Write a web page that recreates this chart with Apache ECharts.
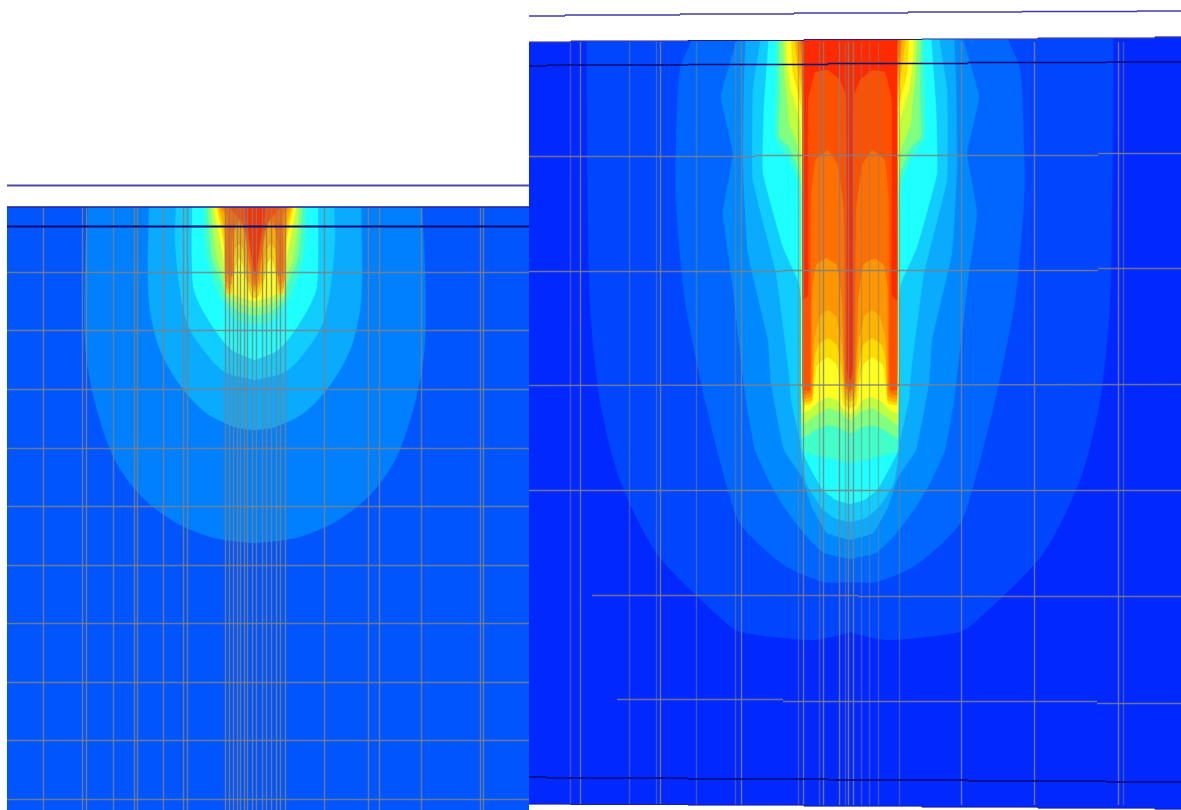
<!DOCTYPE html>
<html><head><meta charset="utf-8">
<style>html,body{margin:0;background:#fff}#c{width:1181px;height:810px}</style>
<script src="https://cdn.jsdelivr.net/npm/echarts@6/dist/echarts.min.js"></script>
</head><body><div id="c"></div>
<script>
// half-outlines of each contour level: [offset from the symmetry axis, depth]
const leftCentre = 255, rightCentre = 850;
const leftColors = ['#0080ff','#0aaaff','#10ccff','#1effff','#40ffc8','#80ff80','#b8ff50','#ffff20','#ffd000','#ffa800','#ff8800','#ff6a00','#ff4c00','#ff3000'];
const leftContours = [
 [[167,207],[170,272],[170,340],[165,380],[155,420],[140,460],[115,495],[80,522],[40,538],[0,543]],
 [[106,207],[107,270],[105,310],[95,350],[75,385],[50,412],[20,427],[0,430]],
 [[79,207],[80,240],[75,290],[67,325],[50,352],[30,372],[0,380]],
 [[63,207],[62,285],[55,305],[40,330],[23,350],[0,360]],
 [[51,207],[50,240],[47,262],[38,290],[30,305],[18,320],[0,325]],
 [[47,207],[45,240],[42,262],[32,285],[29,300],[15,312],[0,316]],
 [[44,207],[41,240],[37,262],[30,280],[29,295],[12,305],[0,308]],
 [[41,207],[38,225],[33,250],[30,270],[29,290],[12,298],[0,302]],
 [[38,207],[34,225],[31,245],[29,292],[24,294],[22,285],[20,270],[16,258],[12,265],[9,280],[4,295],[0,298]],
 [[36,207],[32,222],[30,240],[29,287],[25,289],[22,270],[20,250],[16,244],[11,252],[7,280],[0,292]],
 [[34,207],[30,215],[29,280],[24,284],[22,250],[20,230],[15,224],[10,235],[6,265],[4,280],[0,288]],
 [[31,207],[28,215],[28,272],[23,276],[23,240],[18,222],[13,222],[8,245],[5,265],[0,285]],
 [[25,207],[20,214],[14,220],[8,235],[4,255],[0,278]],
 [[10,207],[8,225],[5,240],[3,260],[0,272]]
];
const rightColors = ['#0046ff','#0066ff','#0088ff','#0aaaff','#10ccff','#1effff','#40ffc8','#80ff80','#c0ff40','#ffff20','#ffdc00','#ffb400','#ff9600','#ff7000','#ff5000','#ff2a00'];
const rightContours = [
 [[263,36],[263,100],[260,300],[250,400],[230,480],[192,555],[125,622],[109,632],[40,640],[15,636],[0,632]],
 [[157,36],[170,70],[174,150],[174,200],[165,300],[145,400],[122,490],[109,525],[66,565],[26,582],[0,582]],
 [[112,36],[129,97],[117,153],[127,213],[118,280],[112,333],[104,400],[95,450],[80,483],[66,507],[43,537],[26,553],[0,559]],
 [[104,36],[106,83],[107,167],[102,253],[82,340],[79,383],[66,450],[48,477],[38,507],[23,533],[0,540]],
 [[89,36],[97,90],[97,180],[74,273],[61,373],[59,400],[50,440],[48,460],[44,483],[29,507],[16,518],[0,522]],
 [[81,36],[86,107],[87,173],[67,247],[51,283],[48,307],[48,440],[47,453],[37,473],[27,490],[14,500],[0,504]],
 [[74,36],[74,60],[75,123],[74,140],[62,157],[51,183],[48,300],[48,447],[47,452],[22,458],[0,463]],
 [[71,36],[70,90],[71,137],[61,147],[50,173],[48,200],[48,438],[35,430],[22,425],[10,428],[0,434]],
 [[67,36],[65,80],[62,107],[61,123],[50,153],[48,200],[48,425],[38,418],[22,408],[10,412],[0,421]],
 [[64,36],[63,60],[59,90],[50,120],[48,160],[48,413],[40,410],[32,402],[22,397],[13,400],[6,410],[0,414]],
 [[59,36],[57,73],[48,110],[47,405],[38,403],[36,385],[33,365],[22,357],[13,365],[9,385],[6,405],[0,408]],
 [[56,36],[51,73],[47,100],[47,402],[38,400],[36,360],[32,345],[22,338],[13,345],[8,370],[5,398],[0,402]],
 [[53,36],[49,70],[47,90],[47,399],[38,396],[36,340],[30,316],[22,310],[14,316],[8,345],[5,392],[0,398]],
 [[51,36],[48,60],[47,80],[47,395],[39,392],[38,290],[34,265],[24,258],[13,265],[8,300],[5,385],[0,393]],
 [[49,36],[47,50],[47,390],[40,390],[39,200],[35,160],[22,150],[12,165],[6,210],[4,380],[0,390]],
 [[47,36],[47,300],[42,295],[42,100],[35,72],[22,70],[10,80],[4,95],[3,200],[3,370],[0,380]]
];
// grid of the finite-element mesh
const leftColumns = [43,82,86,113,134,137,163,183,187,225,229,233,237,240,244,247,252,256,262,266,271,276,280,285,324,368,379,421,480,483];
const leftRows = [272,330,389,448,506,565,623,682,740,799];
const rightStrongColumns = [580,660,741,803,823,839,848,853,961,1034,1118];
const rightFaintColumns = [570,629,656,696,735,798,819,845,861,869,878,899,1123];
const rightRowSegments = [
 [529,156,755,156],[755,155,1098,155],[1098,153,1181,153],
 [529,271,783,271],[783,270,1098,270],[1098,268,1181,268],
 [529,385,1181,384],[529,490,1181,490],
 [592,595,858,595],[858,596,1181,596],
 [617,699,783,699],[783,701,1097,701],[1097,703,1181,703]
];
// stepped edges of the right panel
const topLineX = [529,565,680,794,908,1022,1137,1181], topLineY = [16,15,14,13,12,11.5,11];
const panelTopX = [529,571,688,804,922,1038,1155,1181], panelTopY = [42,41,40.5,39.5,39,38,37];
const navyX = [529,547,688,828,968,1106,1181], navyY = [66,65,64.5,63.5,62.5,62];
const navyBottomX = [529,547,688,828,968,1106,1181], navyBottomY = [777,778,779,780,781,782];
const panelBottomX = [529,571,688,804,922,1038,1155,1181], panelBottomY = [804,804.5,805,806,807,808,809];

const steps = (xs, ys) => { const p = []; ys.forEach((y, i) => { p.push([xs[i], y], [xs[i + 1], y]); }); return p; };
// the outline is continued above the panel, where the white mask hides it, so rounding does not touch the top corners
const mirror = (half, c) => { const full = [[half[0][0], half[0][1] - 18]].concat(half);
  return full.map(h => [c - h[0], h[1]]).concat(full.slice().reverse().map(h => [c + h[0], h[1]])); };

const series = [];
function poly(points, color, idx, smooth) {
  series.push({ type: 'custom', coordinateSystem: 'cartesian2d', xAxisIndex: idx, yAxisIndex: idx, clip: true, silent: true,
    animation: false, data: [points[0]], encode: { x: 0, y: 1 },
    renderItem: (p, api) => ({ type: 'polygon', shape: { points: points.map(q => api.coord(q)), smooth: smooth || 0 }, style: { fill: color, stroke: color, lineWidth: 0.4 } }) });
}
function segments(rows, color, width, idx) {
  series.push({ type: 'custom', coordinateSystem: 'cartesian2d', xAxisIndex: idx, yAxisIndex: idx, clip: true, silent: true,
    animation: false, data: rows, encode: { x: [0, 2], y: [1, 3] },
    renderItem: (p, api) => {
      const a = api.coord([api.value(0), api.value(1)]), b = api.coord([api.value(2), api.value(3)]);
      return { type: 'line', shape: { x1: a[0], y1: a[1], x2: b[0], y2: b[1] }, style: { stroke: color, lineWidth: width } };
    } });
}
function polyline(points, color, width, idx) {
  const rows = []; for (let i = 0; i + 1 < points.length; i++) rows.push([points[i][0], points[i][1], points[i + 1][0], points[i + 1][1]]);
  segments(rows, color, width, idx);
}
const GRID = 'rgba(128,128,128,0.85)', GRID_FAINT = 'rgba(128,128,128,0.5)';

// left panel
poly([[7,207],[529,207],[529,810],[7,810]], '#0055ff', 0);
leftContours.forEach((h, i) => poly(mirror(h, leftCentre), leftColors[i], 0, 0.3));
poly([[7,0],[529,0],[529,207],[7,207]], '#ffffff', 0);
segments(leftColumns.map(x => [x + .5, 207, x + .5, 810]), GRID, 1.4, 0);
segments(leftRows.map(y => [7, y + .5, 529, y + .5]), GRID, 1.4, 0);
polyline([[7,185.5],[529,185.5]], '#4a4aa8', 2, 0);
polyline([[7,207],[529,207]], '#1a1a90', 1.5, 0);
polyline([[7,226.5],[529,226.5]], '#0a0a70', 2, 0);

// right panel
const topEdge = steps(panelTopX, panelTopY), bottomEdge = steps(panelBottomX, panelBottomY);
poly(topEdge.concat(bottomEdge.slice().reverse()), '#0028ff', 1);
rightContours.forEach((h, i) => poly(mirror(h, rightCentre), rightColors[i], 1, i < 2 ? 0.25 : 0.1));
poly(topEdge.concat([[1181,0],[529,0]]), '#ffffff', 1);
segments(rightFaintColumns.map(x => [x + .5, 42, x + .5, 805]), GRID_FAINT, 1.4, 1);
segments(rightStrongColumns.map(x => [x + .5, 42, x + .5, 805]), GRID, 1.4, 1);
segments(rightRowSegments.map(r => [r[0], r[1] + .5, r[2], r[3] + .5]), GRID, 1.4, 1);
polyline(steps(topLineX, topLineY), '#3c3ca0', 1.5, 1);
polyline(topEdge, '#1e1e96', 1.2, 1);
polyline(steps(navyX, navyY), '#0a0a70', 1.5, 1);
polyline(steps(navyBottomX, navyBottomY), '#0a0a70', 1.5, 1);
polyline(bottomEdge, '#1e1e96', 1.2, 1);

const chart = echarts.init(document.getElementById('c'));
chart.setOption({
  animation: false,
  grid: [{ left: 7, width: 522, top: 0, height: 810 }, { left: 529, width: 652, top: 0, height: 810 }],
  xAxis: [{ type: 'value', gridIndex: 0, min: 7, max: 529, show: false }, { type: 'value', gridIndex: 1, min: 529, max: 1181, show: false }],
  yAxis: [{ type: 'value', gridIndex: 0, min: 0, max: 810, inverse: true, show: false }, { type: 'value', gridIndex: 1, min: 0, max: 810, inverse: true, show: false }],
  series
});
</script></body></html>
